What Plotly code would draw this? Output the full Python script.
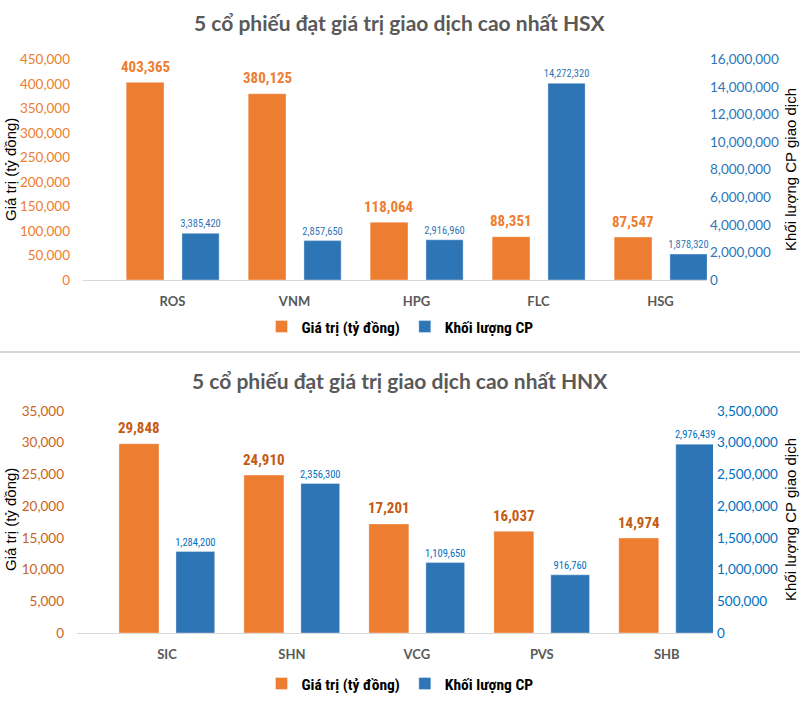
import plotly.graph_objects as go

W, H = 800, 704

# ---- data ----
hsx_codes = ["ROS", "VNM", "HPG", "FLC", "HSG"]
hsx_value = [403365, 380125, 118064, 88351, 87547]          # Giá trị (tỷ đồng)
hsx_volume = [3385420, 2857650, 2916960, 14272320, 1878320]  # Khối lượng CP

hnx_codes = ["SIC", "SHN", "VCG", "PVS", "SHB"]
hnx_value = [29848, 24910, 17201, 16037, 14974]
hnx_volume = [1284200, 2356300, 1109650, 916760, 2976439]

title_hsx = "5 cổ phiếu đạt giá trị giao dịch cao nhất HSX"
title_hnx = "5 cổ phiếu đạt giá trị giao dịch cao nhất HNX"
name_value = "Giá trị (tỷ đồng)"
name_volume = "Khối lượng CP"
ytitle_left = "Giá trị (tỷ đồng)"
ytitle_right = "Khối lượng CP giao dịch"

ORANGE = "#ED7D31"
BLUE = "#2E75B6"
ORANGE2 = "#C55A11"
BLUE2 = "#0070C0"
NARROW = "Roboto Condensed, Liberation Sans Narrow, Roboto, sans-serif"
TICKF = "Lato, Carlito, Calibri, sans-serif"


def px_x(p):
    return p / W


def px_y(p):
    return 1 - p / H


fig = go.Figure()
OUTLINE = dict(color="rgba(255,255,255,0.35)", width=1)

# top chart
fig.add_trace(go.Bar(
    x=hsx_codes, y=hsx_value, name=name_value, xaxis="x", yaxis="y",
    marker=dict(color=ORANGE, line=OUTLINE), width=0.31, offset=-0.38,
    legend="legend", hoverinfo="skip"))
fig.add_trace(go.Bar(
    x=hsx_codes, y=hsx_volume, name=name_volume, xaxis="x", yaxis="y2",
    marker=dict(color=BLUE, line=OUTLINE), width=0.305, offset=0.077,
    texttemplate="%{y:,}", textposition="outside", constraintext="none",
    cliponaxis=False, textfont=dict(family=NARROW, size=10.5, color=BLUE),
    legend="legend", hoverinfo="skip"))

# bottom chart
fig.add_trace(go.Bar(
    x=hnx_codes, y=hnx_value, name=name_value, xaxis="x2", yaxis="y3",
    marker=dict(color=ORANGE, line=OUTLINE), width=0.32, offset=-0.384,
    legend="legend2", hoverinfo="skip"))
fig.add_trace(go.Bar(
    x=hnx_codes, y=hnx_volume, name=name_volume, xaxis="x2", yaxis="y4",
    marker=dict(color=BLUE, line=OUTLINE), width=0.31, offset=0.072,
    texttemplate="%{y:,}", textposition="outside", constraintext="none",
    cliponaxis=False, textfont=dict(family=NARROW, size=10.5, color=BLUE2),
    legend="legend2", hoverinfo="skip"))

top_dom_y = [px_y(280), px_y(59.5)]
bot_dom_y = [px_y(633), px_y(411)]

xcommon = dict(type="category", showgrid=False, zeroline=False, showline=True,
               linecolor="#D9D9D9", linewidth=1, ticks="", automargin=False,
               tickfont=dict(family=TICKF, size=13, color="#595959", weight="bold"),
               ticklabelstandoff=9, fixedrange=True)
ycommon = dict(showgrid=False, zeroline=False, showline=False, ticks="",
               tickformat=",", fixedrange=True, automargin=False)

legend_common = dict(orientation="h", x=0.5, xanchor="center", yanchor="middle",
                     font=dict(family=NARROW, size=15.5, color="#000000", weight="bold"),
                     itemwidth=30, tracegroupgap=0, bgcolor="rgba(0,0,0,0)", borderwidth=0)

fig.update_layout(
    template="none",
    width=W, height=H, margin=dict(l=0, r=0, t=0, b=0, pad=0, autoexpand=False),
    paper_bgcolor="white", plot_bgcolor="white",
    barmode="overlay", showlegend=True,
    xaxis=dict(xcommon, domain=[px_x(83), px_x(707)], anchor="y",
               range=[-0.734, 4.381]),
    yaxis=dict(ycommon, domain=top_dom_y, anchor="x", range=[0, 450000],
               dtick=50000, side="left", ticklabelstandoff=12,
               tickfont=dict(family=TICKF, size=13.5, color=ORANGE)),
    yaxis2=dict(ycommon, overlaying="y", anchor="x", side="right",
                range=[0, 16000000], dtick=2000000, ticklabelstandoff=2,
                tickfont=dict(family=TICKF, size=13.5, color=BLUE)),
    xaxis2=dict(xcommon, domain=[px_x(77), px_x(713)], anchor="y3",
                range=[-0.72, 4.37]),
    yaxis3=dict(ycommon, domain=bot_dom_y, anchor="x2", range=[0, 35000],
                dtick=5000, side="left", ticklabelstandoff=12,
                tickfont=dict(family=TICKF, size=13.5, color="#C8641E")),
    yaxis4=dict(ycommon, overlaying="y3", anchor="x2", side="right",
                range=[0, 3500000], dtick=500000, ticklabelstandoff=3,
                tickfont=dict(family=TICKF, size=13.5, color=BLUE2)),
    legend=dict(legend_common, y=px_y(327)),
    legend2=dict(legend_common, y=px_y(684)),
)

annos = []
# orange value labels, positioned at each bar's value on its own axes
for codes, vals, xr, yr, col, xs in [(hsx_codes, hsx_value, "x", "y", ORANGE, -27.5),
                                      (hnx_codes, hnx_value, "x2", "y3", ORANGE2, -28)]:
    for c, v in zip(codes, vals):
        annos.append(dict(text=f"{v:,}", x=c, y=v, xref=xr, yref=yr, xshift=xs, yshift=15.5,
                          xanchor="center", yanchor="middle", showarrow=False,
                          font=dict(family=NARROW, size=15, color=col, weight="bold")))

for t, yc in [(title_hsx, 22), (title_hnx, 380)]:
    annos.append(dict(text=t, xref="paper", yref="paper", x=0.5, y=px_y(yc),
                      xanchor="center", yanchor="middle", showarrow=False,
                      font=dict(family=TICKF, size=21, color="#595959", weight="bold")))
for yc in [170, 520]:
    annos.append(dict(text=ytitle_left, xref="paper", yref="paper", x=px_x(10), y=px_y(yc),
                      xanchor="center", yanchor="middle", textangle=-90, showarrow=False,
                      font=dict(family="Liberation Sans, Arial, sans-serif", size=15, color="#000000")))
    annos.append(dict(text=ytitle_right, xref="paper", yref="paper", x=px_x(790), y=px_y(yc),
                      xanchor="center", yanchor="middle", textangle=-90, showarrow=False,
                      font=dict(family="Liberation Sans, Arial, sans-serif", size=15, color="#000000")))
fig.update_layout(annotations=annos)

fig.add_shape(type="line", xref="paper", yref="paper", x0=0, x1=1,
              y0=px_y(352), y1=px_y(352), line=dict(color="#D9D9D9", width=2))

fig.write_html("out.html", config={"displayModeBar": False})
